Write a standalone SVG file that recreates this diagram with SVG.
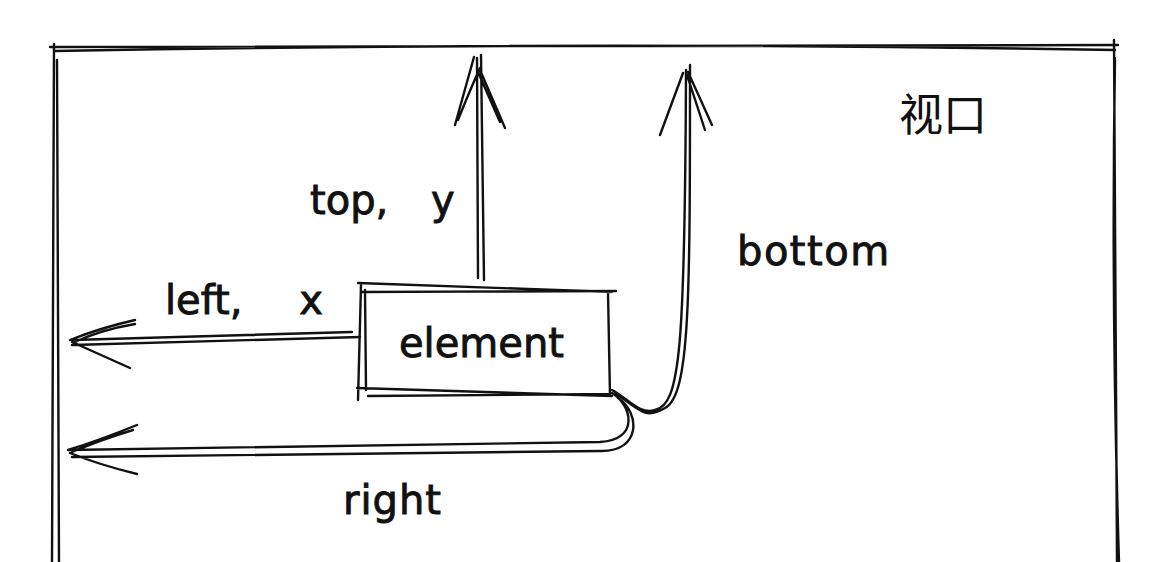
<svg xmlns="http://www.w3.org/2000/svg" width="1155" height="562" viewBox="0 0 1155 562">
<style>
.s{fill:none;stroke:#111;stroke-width:2.4;stroke-linecap:round;stroke-linejoin:round}
.t{font-family:"DejaVu Sans","Liberation Sans",sans-serif;font-size:40px;fill:#111;stroke:#111;stroke-width:0.9}
.c{font-family:"Noto Sans CJK SC",sans-serif;font-size:44px;fill:#111}
</style>
<rect width="1155" height="562" fill="#fff"/>
<g id="viewport">
<path class="s" d="M50 47 L1118 45 M55 51 Q600 41 1115 50"/>
<path class="s" d="M54 44 L52 562 M57 60 L59 562"/>
<path class="s" d="M1114 40 L1117 562 M1115 58 Q1111 300 1119 562"/>
<text class="c" x="899" y="131">视口</text>
</g>
<g id="element">
<path class="s" d="M358 283 L612 292 M362 292 L616 291 M361 285 L358 400 M365 290 L366 390 M357 388 L612 396 M368 396 L610 394 M608 292 L610 396"/>
<text class="t" x="399" y="357">element</text>
</g>
<g id="connectors">
<path class="s" d="M478 278 L477 58 M484 280 L481 55 M455 125 L474 57 M458 120 Q470 90 480 68 M505 128 L480 70 M500 122 L478 72"/>
<path class="s" d="M612 390 C630 400 640 415 655 410 C680 405 685 350 686 70 M615 393 C640 410 645 420 665 408 C690 395 690 300 690 65 M660 135 L683 73 M712 125 L688 72 M705 130 L687 75"/>
<path class="s" d="M352 332 L72 340 M360 337 L72 345 M135 320 Q100 328 70 340 M130 368 L72 342 M135 324 Q100 330 75 342"/>
<path class="s" d="M612 393 C632 405 640 440 600 442 L68 450 M618 398 C640 412 642 452 600 451 L72 457 M137 425 Q100 440 68 450 M137 474 Q100 465 70 453 M133 430 Q100 440 72 452"/>
<text class="t" x="310" y="214" word-spacing="30">top, y</text>
<text class="t" x="165" y="314" word-spacing="44">left, x</text>
<text class="t" x="737" y="265" letter-spacing="1.5">bottom</text>
<text class="t" x="343" y="514" letter-spacing="1">right</text>
</g>
</svg>
